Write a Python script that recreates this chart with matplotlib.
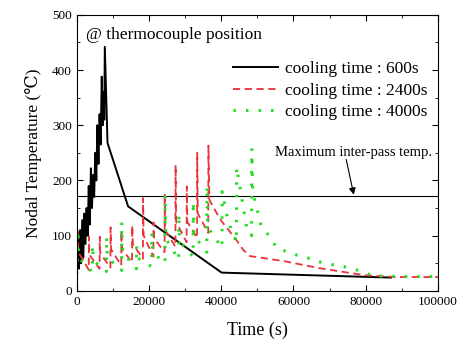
import matplotlib
matplotlib.use('Agg')
import matplotlib.pyplot as plt
from matplotlib.ticker import MultipleLocator

plt.rcParams['font.family'] = ['Liberation Serif', 'DejaVu Serif']
plt.rcParams['mathtext.fontset'] = 'stix'

# cooling time 600s
t_600 = [0, 300, 600, 900, 1200, 1500, 1800, 2100, 2400, 2700, 3000, 3300, 3600,
         3900, 4200, 4500, 4800, 5100, 5400, 5700, 6000, 6300, 6600, 6900, 7200,
         7450, 7600, 7750, 8500, 14200, 40100, 87000]
T_600 = [50, 95, 40, 110, 50, 128, 60, 140, 85, 150, 100, 190, 120,
         222, 150, 210, 170, 250, 200, 300, 230, 320, 265, 388, 300,
         360, 310, 442, 268, 153, 33, 24]

# cooling time 2400s
t_2400 = [0, 300, 450, 3300, 3350, 3500, 6300, 6350, 6500, 9300, 9350, 9500,
          12300, 12350, 12500, 15300, 15350, 15500, 18300, 18350, 18500,
          21200, 21250, 21400, 24300, 24350, 24500, 27300, 27350, 27500,
          30400, 30450, 30600, 33300, 33350, 33500, 36400, 36450, 36700,
          38200, 40100, 42400, 44200, 46100, 47900, 52100, 58000, 66400,
          75000, 80200, 88000, 100000]
T_2400 = [30, 112, 70, 38, 98, 65, 40, 98, 68, 42, 115, 75,
          46, 108, 75, 52, 118, 85, 58, 168, 100,
          62, 124, 95, 70, 174, 110, 80, 228, 125,
          88, 189, 125, 96, 250, 140, 105, 263, 165,
          147, 126, 107, 92, 74, 63, 59, 53, 42,
          33, 28, 25, 25]

# cooling time 4000s
t_4000 = [0, 300, 500, 4300, 4350, 4550, 8200, 8250, 8450, 12400, 12450, 12650,
          16500, 16550, 16750, 20700, 20750, 20950, 24400, 24450, 24650,
          28200, 28250, 28450, 32200, 32250, 32450, 36000, 36050, 36250,
          40200, 40250, 41900, 44200, 44250, 47000, 48400, 48450, 48700,
          51100, 53500, 55300, 58100, 60800, 63800, 66800, 71000, 75600,
          79300, 82000, 90000, 100000]
T_4000 = [30, 110, 60, 34, 83, 55, 35, 98, 60, 37, 125, 70,
          40, 82, 60, 44, 105, 70, 50, 174, 95,
          56, 140, 90, 62, 162, 100, 70, 190, 115,
          78, 180, 126, 88, 224, 116, 100, 258, 180,
          116, 98, 78, 71, 65, 60, 53, 47, 42,
          34, 27, 26, 26]

max_interpass = 172

fig = plt.figure(figsize=(4.6, 3.45), dpi=100)
ax = fig.add_axes([0.167, 0.157, 0.785, 0.8])

ax.axhline(max_interpass, color='black', lw=0.8)
ax.plot(t_600, T_600, color='black', lw=1.4, label='cooling time : 600s')
ax.plot(t_2400, T_2400, color='#e8323c', lw=1.3, linestyle=(0, (4, 2.5)),
        label='cooling time : 2400s')
ax.plot(t_4000, T_4000, color='#22dd22', lw=2.2, linestyle=(0, (0.8, 3.3)),
        label='cooling time : 4000s')

ax.set_xlim(0, 100000)
ax.set_ylim(0, 500)
ax.xaxis.set_major_locator(MultipleLocator(20000))
ax.xaxis.set_minor_locator(MultipleLocator(10000))
ax.yaxis.set_major_locator(MultipleLocator(100))
ax.yaxis.set_minor_locator(MultipleLocator(50))
ax.tick_params(which='both', direction='in', top=True, right=True, labelsize=9.5)
ax.tick_params(which='major', length=4)
ax.tick_params(which='minor', length=2.5)

ax.set_xlabel('Time (s)', fontsize=13, labelpad=10)
ax.set_ylabel('Nodal Temperature (℃)', fontsize=12.5, labelpad=7)

ax.text(0.025, 0.955, '@ thermocouple position', transform=ax.transAxes,
        fontsize=12.5, va='top', ha='left')

ax.legend(loc='upper right', bbox_to_anchor=(1.0, 0.87), frameon=False,
          fontsize=12.5, handlelength=2.6, handletextpad=0.4, labelspacing=0.3,
          borderaxespad=0.2)

ax.text(98300, 250, 'Maximum inter-pass temp.', ha='right', va='center',
        fontsize=10.5)
ax.annotate('', xy=(76700, max_interpass + 2), xytext=(74600, 238),
            arrowprops=dict(arrowstyle='-|>', color='black', lw=0.8,
                            shrinkA=0, shrinkB=0))

fig.savefig('out.png', dpi=100)
